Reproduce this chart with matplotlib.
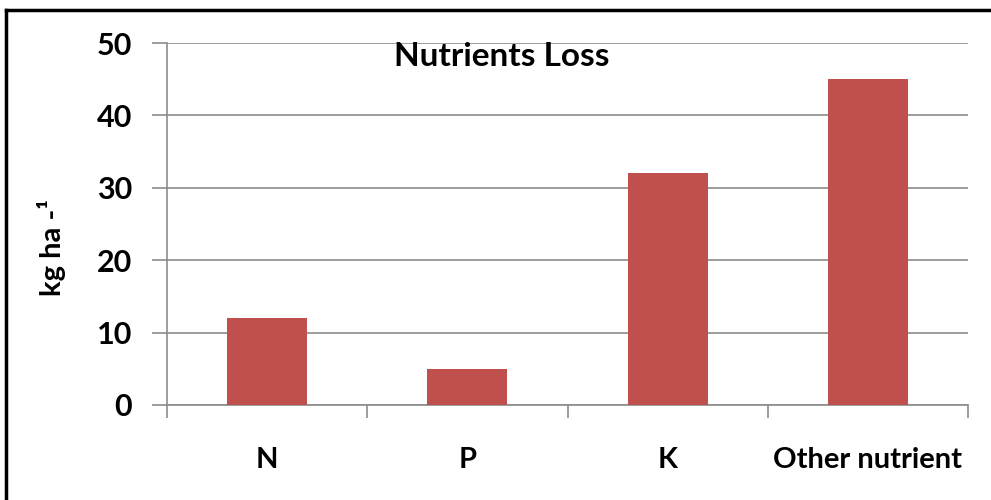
import matplotlib.pyplot as plt
from matplotlib.lines import Line2D

plt.rcParams['font.family'] = ['Lato', 'DejaVu Sans']

# Datos del grafico
categories = ['N', 'P', 'K', 'Other nutrient']
loss = [12, 5, 32, 45]
y_ticks = [0, 10, 20, 30, 40, 50]

fig = plt.figure(figsize=(9.91, 5.0), dpi=100)
ax = fig.add_axes([167 / 991, 95 / 500, 801 / 991, 362 / 500])

pos = range(len(categories))
ax.bar(pos, loss, width=0.4, color='#C0504D', zorder=3)

ax.set_xlim(-0.5, len(categories) - 0.5)
ax.set_ylim(0, 50)
ax.set_yticks(y_ticks)
ax.grid(axis='y', color='#8c8c8c', linewidth=1.2, zorder=0)

# ticks del eje x en los limites de cada categoria, etiquetas en el centro
ax.set_xticks([i - 0.5 for i in range(len(categories) + 1)])
ax.set_xticklabels([])
ax.set_xticks(list(pos), minor=True)
ax.set_xticklabels(categories, minor=True, fontsize=21, fontweight='bold')
ax.tick_params(axis='x', which='major', length=9, color='#8c8c8c', width=1.2)
ax.tick_params(axis='x', which='minor', length=0, pad=30)
ax.tick_params(axis='y', length=11, color='#8c8c8c', width=1.2, pad=14,
               labelsize=22)
for lab in ax.get_yticklabels():
    lab.set_fontweight('bold')

for s in ['top', 'right']:
    ax.spines[s].set_visible(False)
for s in ['left', 'bottom']:
    ax.spines[s].set_color('#8c8c8c')
    ax.spines[s].set_linewidth(1.2)

fig.text(502 / 991, 1 - 57 / 500, 'Nutrients Loss', ha='center', va='center',
         fontsize=24, fontweight='bold')
fig.text(52 / 991, 1 - 247 / 500, 'kg ha -\u00b9', ha='center', va='center',
         rotation=90, fontsize=21, fontweight='bold')

# marco exterior (solo arriba y a la izquierda)
fig.add_artist(Line2D([6 / 991, 1], [1 - 10 / 500, 1 - 10 / 500],
                      transform=fig.transFigure, color='black', linewidth=2.5))
fig.add_artist(Line2D([6 / 991, 6 / 991], [0, 1 - 10 / 500],
                      transform=fig.transFigure, color='black', linewidth=2.5))

plt.savefig("out.png", dpi=100)
